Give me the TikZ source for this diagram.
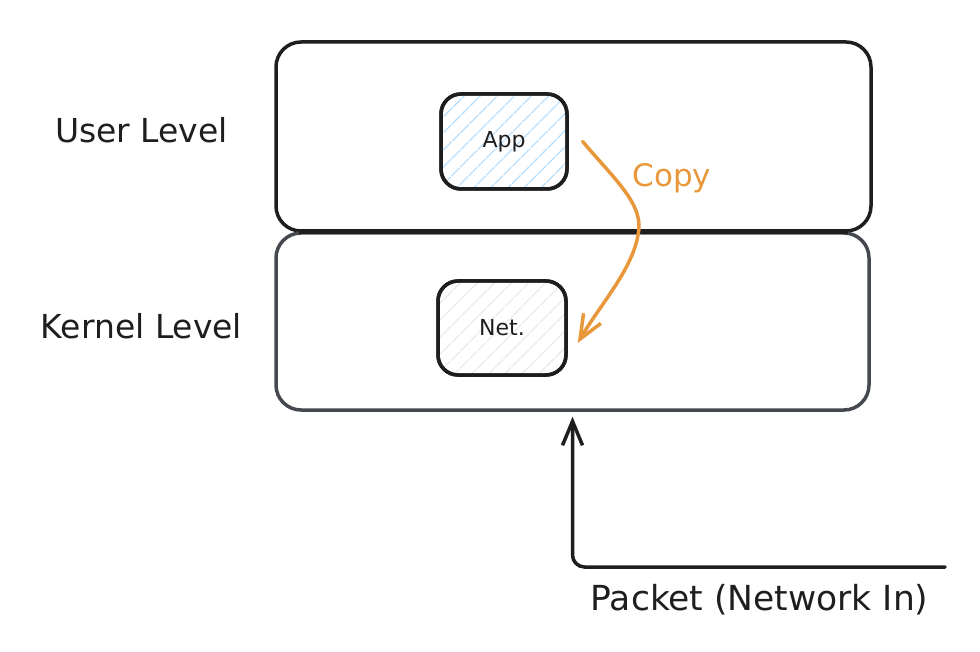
\documentclass[tikz,border=0pt]{standalone}
\usepackage{fontspec}
\setmainfont{DejaVu Sans}
\usetikzlibrary{arrows.meta,patterns.meta}
\definecolor{ink}{HTML}{1E1E1E}
\definecolor{inkgray}{HTML}{45494F}
\definecolor{copyorange}{HTML}{E8983A}
\definecolor{hatchblue}{HTML}{A5D8FF}
\definecolor{hatchgray}{HTML}{E3E6EA}
\tikzset{
  layerbox/.style={draw=ink, line width=3.5pt, rounded corners=25pt, inner sep=0pt},
  compbox/.style={draw=ink, line width=3.5pt, rounded corners=20pt, inner sep=0pt, text=ink, font=\fontsize{22}{26}\selectfont},
  lbl/.style={text=ink, font=\fontsize{33}{38}\selectfont, inner sep=0pt},
  barb/.style={-{Straight Barb[length=24pt,width=20pt,line width=3.5pt]}, line width=3.5pt, line cap=round},
}
\begin{document}
\begin{tikzpicture}[x=1pt,y=-1pt]
\useasboundingbox[fill=white] (0,0) rectangle (980,652);
% layers
\node[layerbox, minimum width=595pt, minimum height=189pt] (user) at (573.5,136.5) {};
\node[layerbox, draw=inkgray, minimum width=593pt, minimum height=177pt] (kernel) at (572.5,321.5) {};
\draw[ink, line width=3.5pt] (user.south west) ++(25,0) -- ([xshift=-25pt]user.south east);
% components
\node[compbox, minimum width=126pt, minimum height=95pt,
  pattern={Lines[angle=45,distance=13pt,line width=1.3pt]}, pattern color=hatchblue] (app) at (504,141.5) {};
\node[compbox, minimum width=126pt, minimum height=95pt] at (504,141.5) {App};
\node[compbox, minimum width=128pt, minimum height=94pt,
  pattern={Lines[angle=45,distance=13pt,line width=1.3pt]}, pattern color=hatchgray] (net) at (502,328) {};
\node[compbox, minimum width=128pt, minimum height=94pt] at (502,328) {Net.};
% labels
\node[lbl] (ul) at (141.5,130) {User Level};
\node[lbl] (kl) at (141.5,326) {Kernel Level};
\node[lbl, font=\fontsize{34.5}{40}\selectfont] (pk) at (759.5,600) {Packet (Network In)};
\node[lbl, text=copyorange, font=\fontsize{31}{36}\selectfont] (cp) at (672,178) {Copy};
% copy arrow
\draw[barb, copyorange] ([xshift=15pt]app.east) .. controls (615,180) and (645,205) .. (638,235)
  .. controls (632,270) and (600,305) .. ([xshift=10pt,yshift=-15pt]net.east);
% packet arrow
\coordinate (pin) at (945,567);
\draw[barb, ink, rounded corners=12pt, shorten >=5pt] (pin) -| (kernel.south);
\end{tikzpicture}
\end{document}
